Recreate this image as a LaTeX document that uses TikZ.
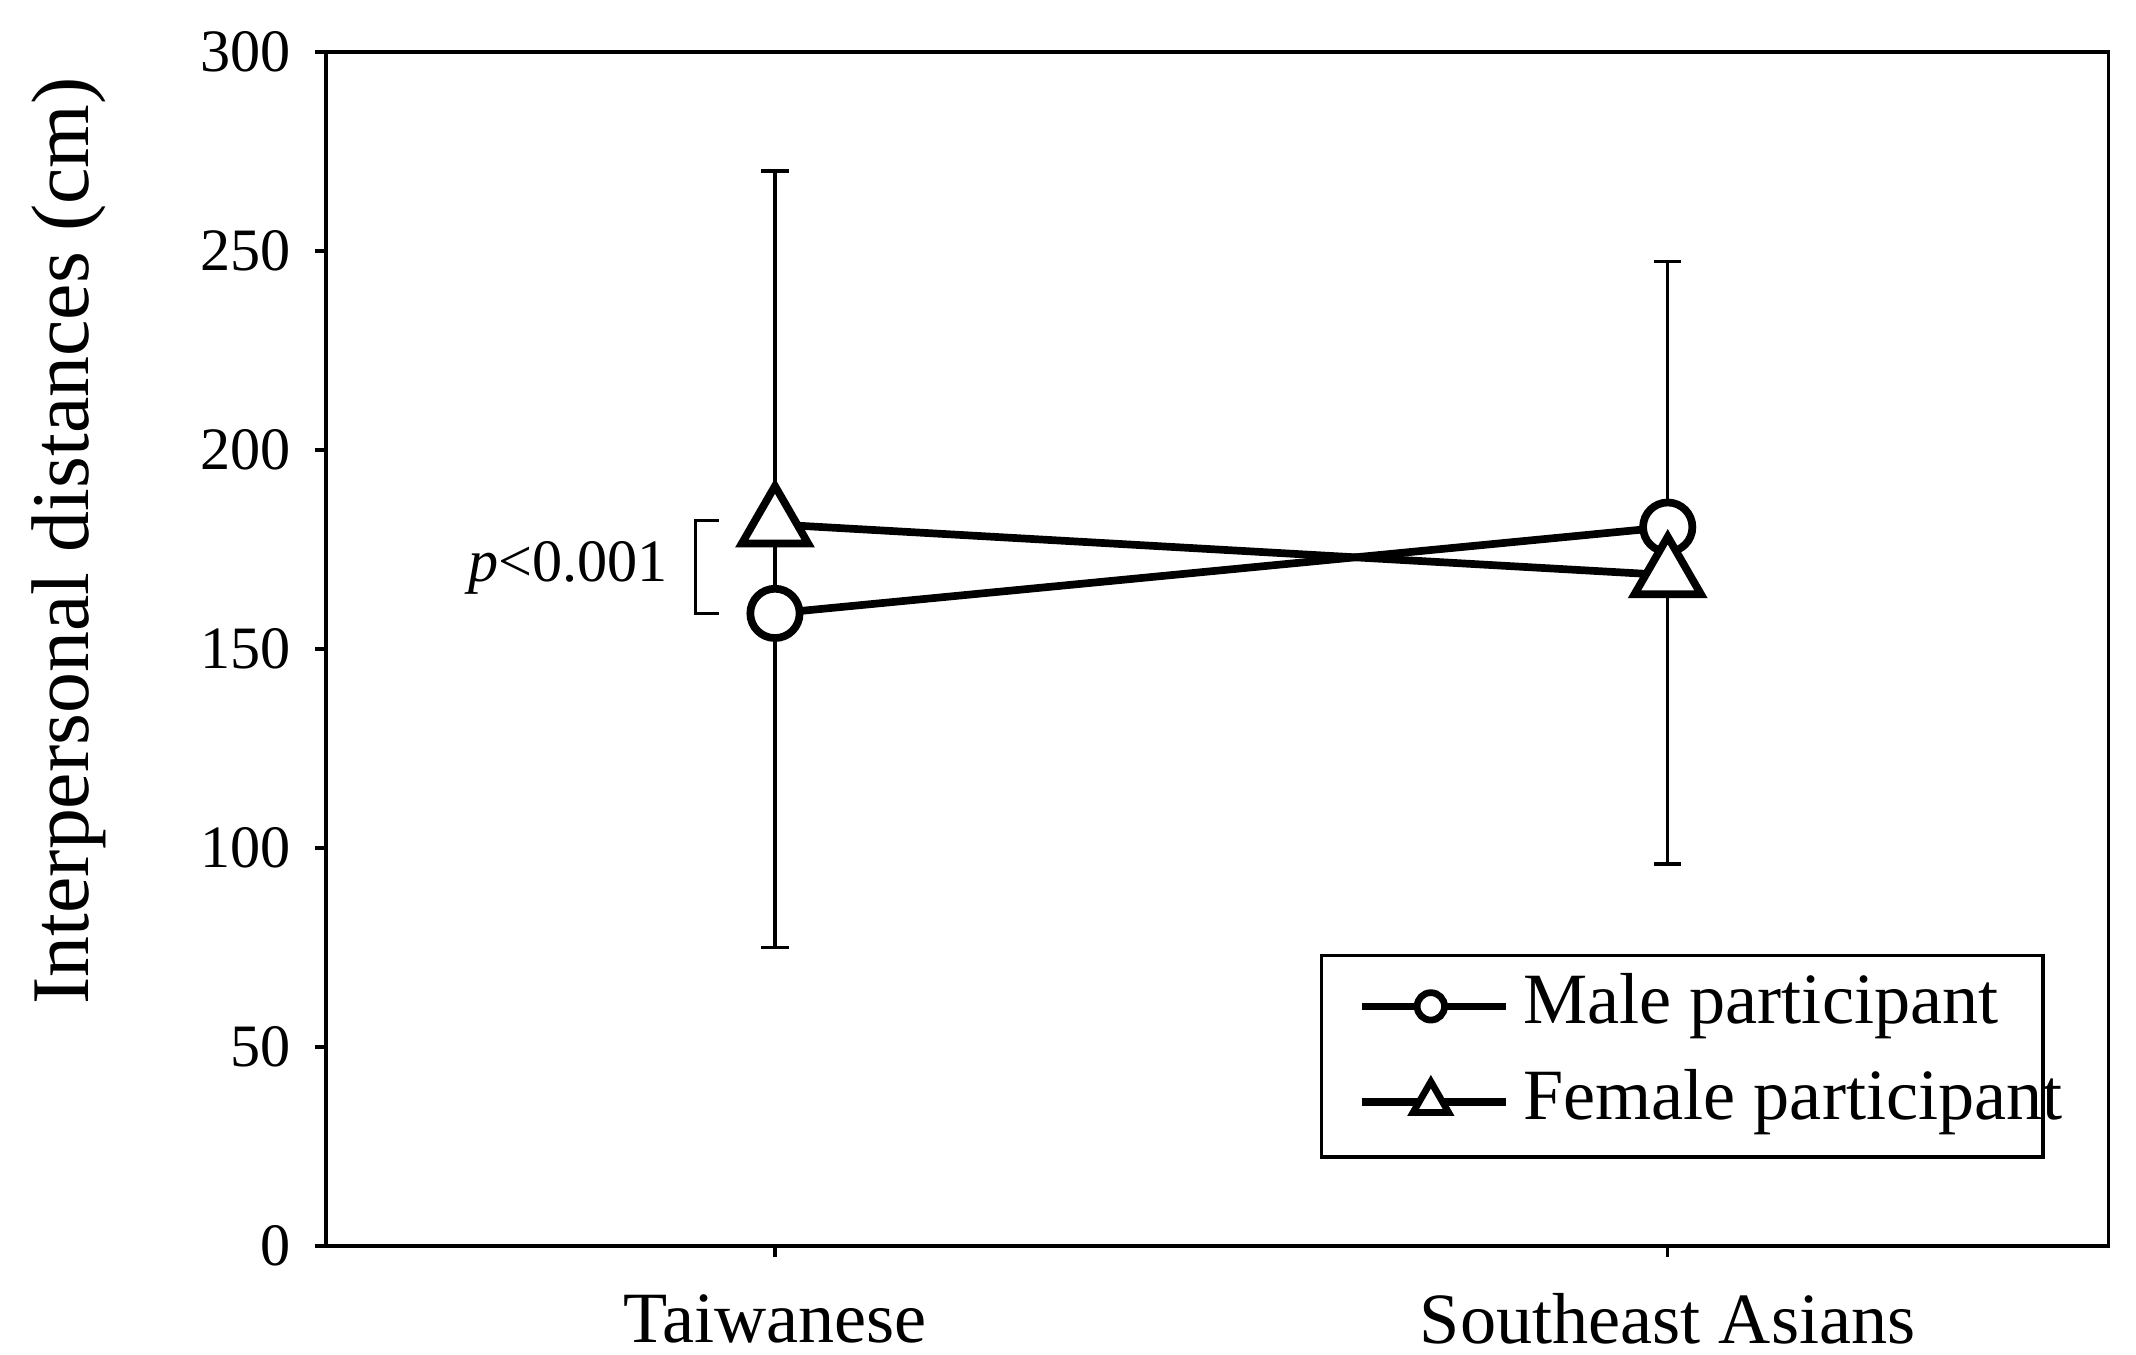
\documentclass[tikz,border=0pt]{standalone}
\usepackage{fontspec}
\setmainfont{Liberation Serif}
\usetikzlibrary{shapes.geometric}
\begin{document}
\begin{tikzpicture}[x=0.01cm,y=-0.01cm,
  ln/.style={line width=1.6pt},
  thin/.style={line width=0.7pt},
  circmark/.style={circle,draw,fill=white,line width=1.6pt,minimum size=0.36cm,inner sep=0pt},
  trimark/.style={regular polygon,regular polygon sides=3,draw,fill=white,line width=1.6pt,minimum size=0.56cm,inner sep=0pt},
  smallcirc/.style={circle,draw,fill=white,line width=1.4pt,minimum size=0.2cm,inner sep=0pt},
  smalltri/.style={regular polygon,regular polygon sides=3,draw,fill=white,line width=1.4pt,minimum size=0.3cm,inner sep=0pt},
  tick/.style={font=\fontsize{12.5}{14}\selectfont,anchor=east},
  cat/.style={font=\fontsize{15}{17}\selectfont}]
\useasboundingbox (0,0) rectangle (1560,989);
% axes frame
\draw[thin] (238,38) rectangle (1540,910);
\foreach \v in {0,50,...,300}{
  \draw[thin] (230,{910-\v*2.9067}) -- (238,{910-\v*2.9067});
  \node[tick] at (225,{910-\v*2.9067}) {\v};
}
\draw[thin] (566,910) -- (566,918);
\draw[thin] (1218,910) -- (1218,918);
\node[cat] (c1) at (566,963) {Taiwanese};
\node[cat] (c2) at (1218,963) {Southeast Asians};
\node[rotate=90,font=\fontsize{17}{19}\selectfont] (yl) at (50,395) {Interpersonal distances (cm)};
% error bars
\coordinate (t1) at (566,125); \coordinate (b1) at (566,692);
\coordinate (t2) at (1218,191); \coordinate (b2) at (1218,631);
\draw[thin] (t1) -- (b1) (556,125) -- (576,125) (556,692) -- (576,692);
\draw[thin] (t2) -- (b2) (1208,191) -- (1228,191) (1208,631) -- (1228,631);
% data
\coordinate (mT) at (566,448); \coordinate (mS) at (1218,385);
\coordinate (fT) at (566,383); \coordinate (fS) at (1218,420);
\draw[ln] (mT) -- (mS);
\draw[ln] (fT) -- (fS);
\node[circmark] (nmT) at (mT) {};
\node[circmark] (nmS) at (mS) {};
\node[trimark] (nfT) at (fT) {};
\node[trimark] (nfS) at (fS) {};
% p bracket
\draw[thin] (525,380) -- (508,380) -- (508,448) -- (525,448);
\node[anchor=east,font=\fontsize{12.5}{14}\selectfont] (p) at (500,415) {\textit{p}<0.001};
% legend
\draw[thin] (965,698) rectangle (1492,845);
\coordinate (l1a) at (995,735); \coordinate (l1b) at (1100,735);
\coordinate (l2a) at (995,805); \coordinate (l2b) at (1100,805);
\draw[ln] (l1a) -- (l1b);
\draw[ln] (l2a) -- (l2b);
\node[smallcirc] (lc) at (1045,735) {};
\node[smalltri] (lt) at (1045,805) {};
\node[anchor=west,font=\fontsize{15}{17}\selectfont] (lm) at (1100,735) {Male participant};
\node[anchor=west,font=\fontsize{15}{17}\selectfont] (lf) at (1100,805) {Female participant};
\end{tikzpicture}
\end{document}
